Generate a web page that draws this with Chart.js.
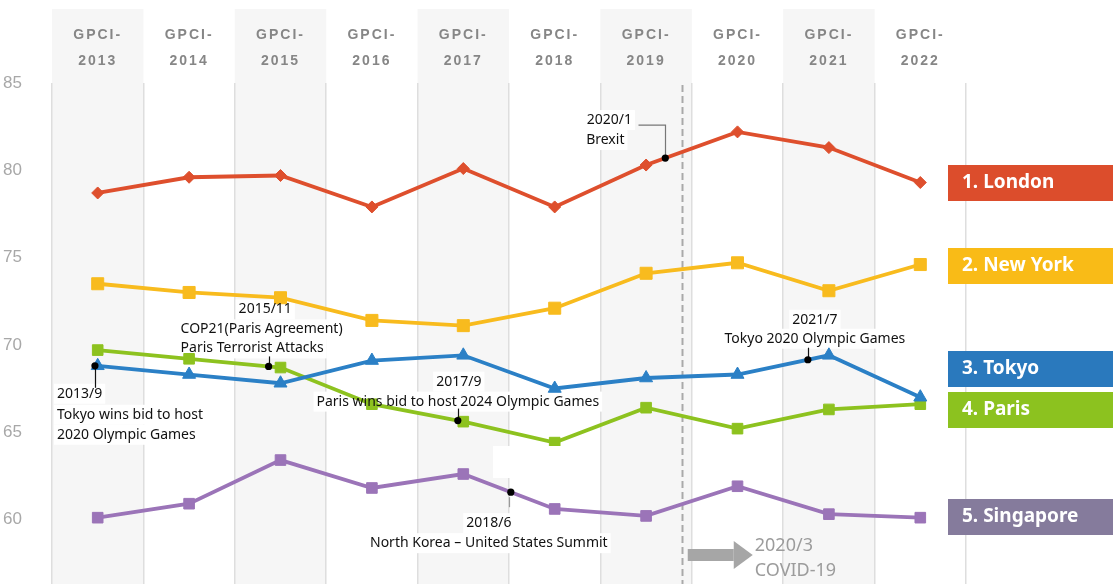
<!DOCTYPE html>
<html>
<head>
<meta charset="utf-8">
<script src="https://cdn.jsdelivr.net/npm/chart.js@4.4.1/dist/chart.umd.min.js"></script>
<style>
  html, body { margin: 0; padding: 0; background: #fff; }
  #wrap { width: 1113px; height: 584px; position: relative; }
</style>
</head>
<body>
<div id="wrap"><canvas id="chart"></canvas></div>
<script>
// GPCI overall score of the top five cities, 2013 - 2022
var years = ['2013', '2014', '2015', '2016', '2017', '2018', '2019', '2020', '2021', '2022'];
var london    = [78.7, 79.6, 79.7, 77.9, 80.1, 77.9, 80.3, 82.2, 81.3, 79.3];
var newYork   = [73.5, 73.0, 72.7, 71.4, 71.1, 72.1, 74.1, 74.7, 73.1, 74.6];
var tokyo     = [68.8, 68.3, 67.8, 69.1, 69.4, 67.5, 68.1, 68.3, 69.4, 67.0];
var paris     = [69.7, 69.2, 68.7, 66.6, 65.6, 64.4, 66.4, 65.2, 66.3, 66.6];
var singapore = [60.1, 60.9, 63.4, 61.8, 62.6, 60.6, 60.2, 61.9, 60.3, 60.1];
var yTicks = [60, 65, 70, 75, 80, 85];
var ranks = ['1. London', '2. New York', '3. Tokyo', '4. Paris', '5. Singapore'];

// events, placed on a series at a fractional year index
var events = [
  { date: '2013/9',  text: ['Tokyo wins bid to host', '2020 Olympic Games'], series: tokyo, at: -0.03 },
  { date: '2015/11', text: ['COP21(Paris Agreement)', 'Paris Terrorist Attacks'], series: paris, at: 1.87 },
  { date: '2017/9',  text: ['Paris wins bid to host 2024 Olympic Games'], series: paris, at: 3.94 },
  { date: '2018/6',  text: ['North Korea \u2013 United States Summit'], series: singapore, at: 4.52 },
  { date: '2020/1',  text: ['Brexit'], series: london, at: 6.21 },
  { date: '2021/7',  text: ['Tokyo 2020 Olympic Games'], series: tokyo, at: 7.77 }
];
var covidAt = 6.39;

// where each event's text and leader sit, relative to its dot (px)
var eventLayout = [
  { align: 'left',   lines: [[-38, 28], [-38, 49], [-38, 69]], lead: [[0, 0], [0, 22]] },
  { align: 'left',   lines: [[-30, -57], [-88, -37], [-88, -18]], lead: [[0, 0], [0, -10]] },
  { align: 'center', lines: [[1, -39], [0, -19]], lead: [[0, 0], [0, -12]] },
  { align: 'center', lines: [[-22, 31], [-22, 51]], lead: [[-2, 5], [-2, 15]], leadColor: '#999' },
  { align: 'center', lines: [[-56, -38], [-60, -18]], lead: [[0, 0], [0, -33], [-27, -33]], leadColor: '#777' },
  { align: 'center', lines: [[7, -40], [7, -21]], lead: [[0, 0], [0, -12]] }
];

var rankColors = ['#dc4d2c', '#f9bb17', '#2a79bd', '#8cc21f', '#857b9c'];
var rankTops = [165, 248, 351, 392, 499];

function onLine(series, at) {
  var i = Math.max(0, Math.min(series.length - 2, Math.floor(at)));
  var f = Math.max(0, Math.min(1, at - i));
  return series[i] + (series[i + 1] - series[i]) * f;
}

function line(label, data, color, style, radius) {
  return {
    label: label, data: data,
    borderColor: color, backgroundColor: color,
    borderWidth: 3.8, tension: 0,
    pointStyle: style, pointRadius: radius, pointBorderWidth: 1
  };
}

var noteFont = '14px "Noto Sans"';

function eventDots(chart) {
  var sx = chart.scales.x, sy = chart.scales.y;
  return events.map(function (e) {
    return { x: sx.getPixelForValue(e.at), y: sy.getPixelForValue(onLine(e.series, e.at)) };
  });
}

function eachNoteLine(chart, fn) {
  var dots = eventDots(chart);
  events.forEach(function (e, k) {
    var lay = eventLayout[k];
    [e.date].concat(e.text).forEach(function (t, j) {
      fn(t, dots[k].x + lay.lines[j][0], dots[k].y + lay.lines[j][1], lay.align);
    });
  });
}

var decor = {
  id: 'decor',
  beforeDraw: function (chart) {
    var ctx = chart.ctx, sx = chart.scales.x;
    // wider letter spacing on the year headers
    if (!sx._spaced) {
      var drawLabels = sx.drawLabels;
      sx.drawLabels = function (area) {
        this.ctx.save();
        this.ctx.letterSpacing = '2px';
        drawLabels.call(this, area);
        this.ctx.restore();
      };
      sx._spaced = true;
    }
    ctx.save();
    ctx.fillStyle = '#fff';
    ctx.fillRect(0, 0, chart.width, chart.height);
    var step = sx.getPixelForValue(1) - sx.getPixelForValue(0);
    ctx.fillStyle = '#f6f6f6';
    for (var i = 0; i < years.length; i += 2) {
      var c = sx.getPixelForValue(i);
      ctx.fillRect(c - step / 2, 9, step, chart.height - 9);
    }
    ctx.restore();
  },
  beforeDatasetsDraw: function (chart) {
    var ctx = chart.ctx, a = chart.chartArea;
    var x = Math.round(chart.scales.x.getPixelForValue(covidAt)) + 0.5;
    ctx.save();
    ctx.strokeStyle = '#a9a9a9';
    ctx.lineWidth = 2;
    ctx.setLineDash([7, 4]);
    ctx.beginPath();
    ctx.moveTo(x, a.top + 2);
    ctx.lineTo(x, a.bottom);
    ctx.stroke();
    ctx.setLineDash([]);
    // white boxes behind the event notes
    ctx.font = noteFont;
    ctx.fillStyle = '#fff';
    eachNoteLine(chart, function (t, tx, ty, align) {
      var w = ctx.measureText(t).width;
      var left = align === 'center' ? tx - w / 2 : tx;
      ctx.fillRect(left - 3, ty - 10, w + 6, 20);
    });
    ctx.restore();
  },
  afterDatasetsDraw: function (chart) {
    var ctx = chart.ctx;
    var dots = eventDots(chart);
    ctx.save();
    // text box edge left over the 2018 gridline
    ctx.fillStyle = '#fff';
    ctx.fillRect(493, 446, 99, 32);

    events.forEach(function (e, k) {
      var lay = eventLayout[k], d = dots[k];
      ctx.strokeStyle = lay.leadColor || '#111';
      ctx.lineWidth = 1.2;
      ctx.beginPath();
      lay.lead.forEach(function (p, j) {
        var px = Math.round(d.x + p[0]) + 0.5, py = d.y + p[1];
        if (j === 0) ctx.moveTo(px, py); else ctx.lineTo(px, py);
      });
      ctx.stroke();
      ctx.fillStyle = '#000';
      ctx.beginPath();
      ctx.arc(d.x, d.y, 3.6, 0, Math.PI * 2);
      ctx.fill();
    });

    ctx.font = noteFont;
    ctx.fillStyle = '#111';
    ctx.textBaseline = 'middle';
    eachNoteLine(chart, function (t, tx, ty, align) {
      ctx.textAlign = align;
      ctx.fillText(t, tx, ty);
    });

    // COVID-19 arrow and note
    var x0 = chart.scales.x.getPixelForValue(covidAt) + 6, yc = 555;
    ctx.fillStyle = '#a6a6a6';
    ctx.fillRect(x0, yc - 6, 46, 12);
    ctx.beginPath();
    ctx.moveTo(x0 + 46, yc - 14);
    ctx.lineTo(x0 + 65, yc);
    ctx.lineTo(x0 + 46, yc + 14);
    ctx.closePath();
    ctx.fill();
    ctx.fillStyle = '#9c9c9c';
    ctx.font = '18px "Noto Sans"';
    ctx.textAlign = 'left';
    ctx.fillText('2020/3', x0 + 67, 546);
    ctx.fillText('COVID-19', x0 + 67, 571);

    // rank tags on the right
    ctx.font = 'bold 19px "Noto Sans"';
    ranks.forEach(function (r, i) {
      ctx.fillStyle = rankColors[i];
      ctx.fillRect(948, rankTops[i], chart.width - 948, 36);
      ctx.fillStyle = '#fff';
      ctx.fillText(r, 962, rankTops[i] + 18);
    });
    ctx.restore();
  }
};

new Chart(document.getElementById('chart'), {
  type: 'line',
  data: {
    labels: years.map(function (y) { return ['GPCI-', y]; }),
    datasets: [
      line('London', london, '#de4f2d', 'rectRot', 6),
      line('New York', newYork, '#f8bb1e', 'rect', 8.5),
      line('Tokyo', tokyo, '#2b80c6', 'triangle', 7.5),
      line('Paris', paris, '#8dc21f', 'rect', 7.5),
      line('Singapore', singapore, '#9b74b8', 'rect', 7.5)
    ]
  },
  options: {
    responsive: true,
    maintainAspectRatio: false,
    animation: false,
    layout: { autoPadding: false, padding: { right: 147 } },
    plugins: { legend: { display: false }, tooltip: { enabled: false } },
    scales: {
      x: {
        position: 'top',
        offset: true,
        grid: { offset: true, color: '#dedede', lineWidth: 1.5, drawTicks: false },
        border: { display: false },
        ticks: {
          color: '#868686', padding: 9, maxRotation: 0, autoSkip: false,
          font: { family: '"Liberation Sans"', size: 14, weight: 'bold', lineHeight: 1.86 }
        },
        afterFit: function (s) { s.height = 83; }
      },
      y: {
        min: 56.3,
        max: 85,
        grid: { display: false },
        border: { display: false },
        ticks: { color: '#a8a8a8', padding: 22, font: { family: '"Liberation Sans"', size: 17 } },
        afterBuildTicks: function (s) { s.ticks = yTicks.map(function (v) { return { value: v }; }); },
        afterFit: function (s) {
          s.width = 52;
          s.paddingTop = 0;
          s.paddingBottom = 0;
        }
      }
    }
  },
  plugins: [decor]
});
</script>
</body>
</html>
